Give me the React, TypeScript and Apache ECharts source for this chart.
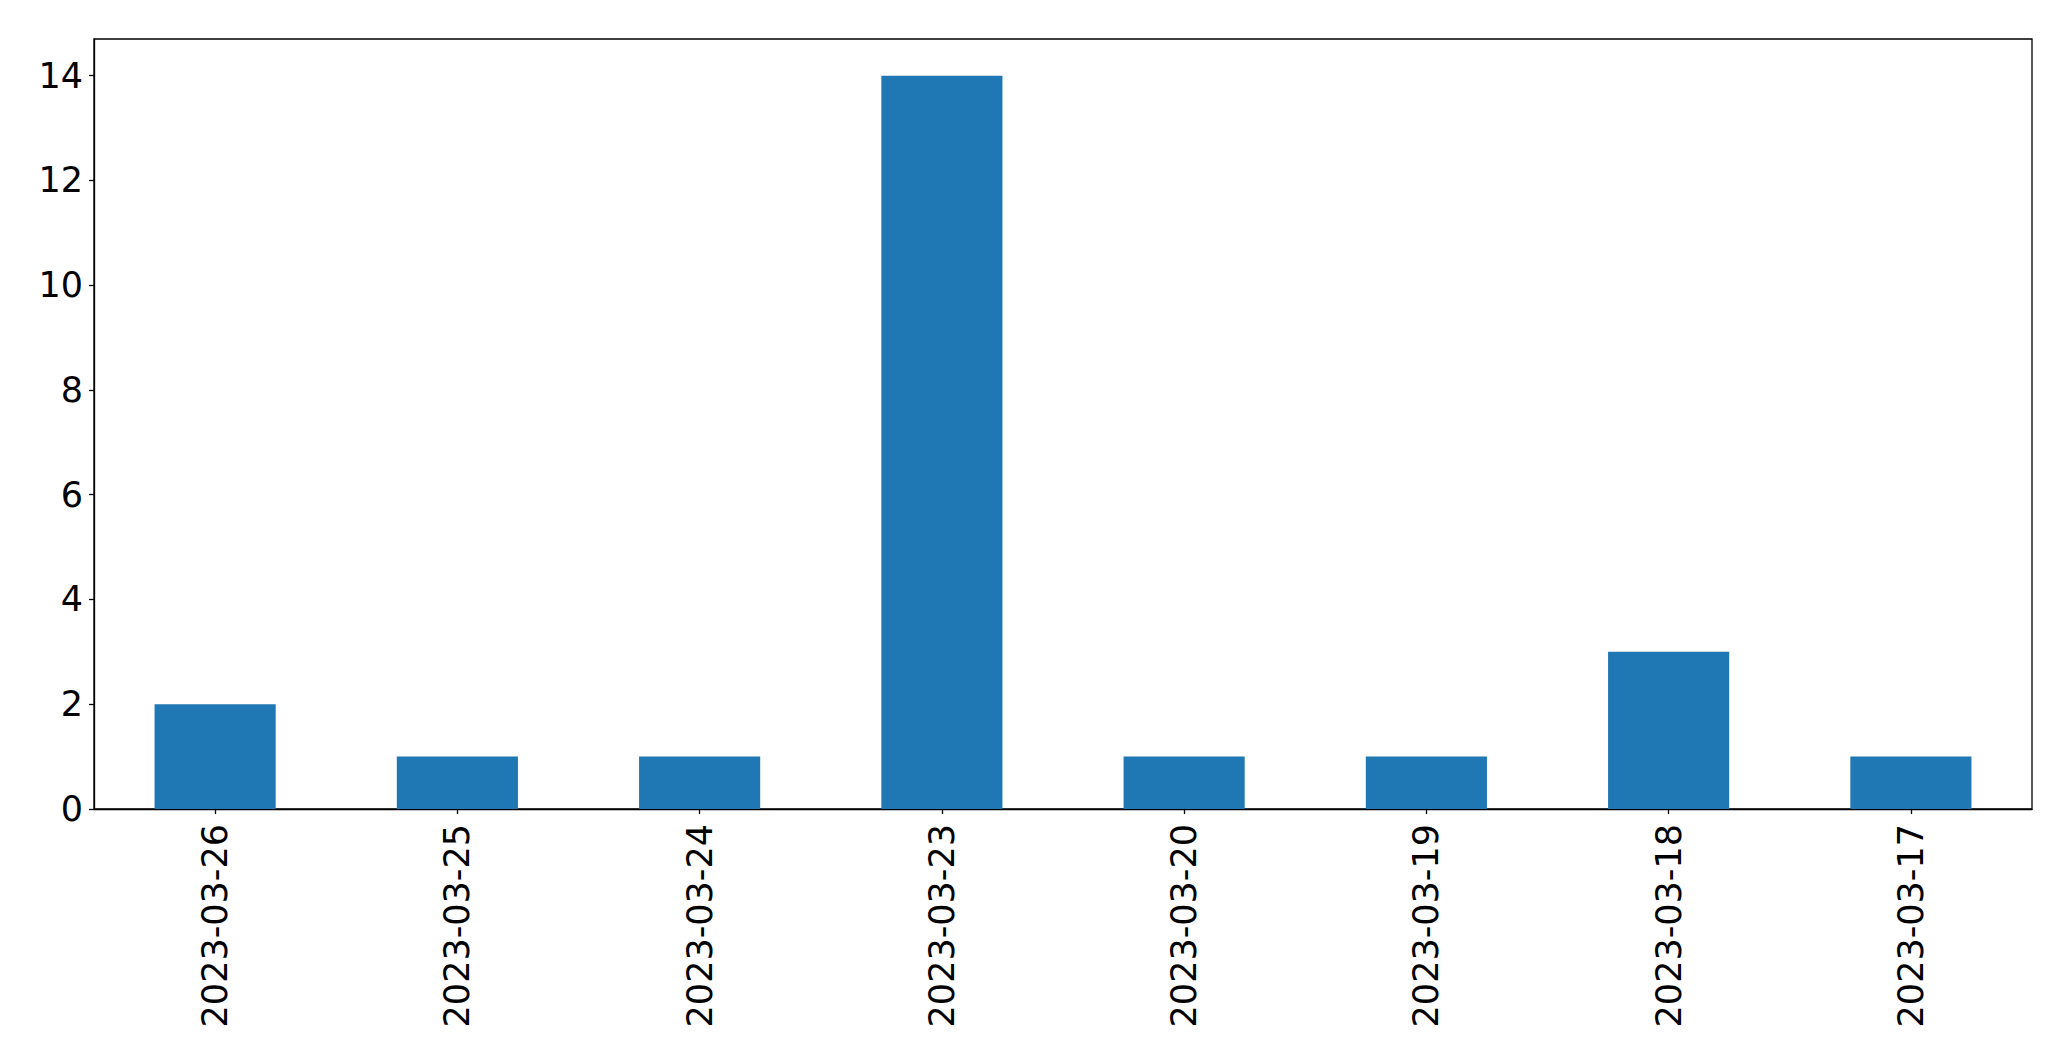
import React, { useEffect, useRef } from "react";
import * as echarts from "echarts";

const categories = [
  "2023-03-26",
  "2023-03-25",
  "2023-03-24",
  "2023-03-23",
  "2023-03-20",
  "2023-03-19",
  "2023-03-18",
  "2023-03-17",
];
const counts = [2, 1, 1, 14, 1, 1, 3, 1];
const yTicks = [0, 2, 4, 6, 8, 10, 12, 14];

export default function App() {
  const ref = useRef<HTMLDivElement>(null);
  useEffect(() => {
    if (!ref.current) return;
    const chart = echarts.init(ref.current, null, { renderer: "svg" });
    const font = "DejaVu Sans";
    chart.setOption({
      animation: false,
      backgroundColor: "#ffffff",
      grid: {
        left: 94,
        right: 39,
        top: 39,
        bottom: 252,
        show: true,
        borderColor: "#000000",
        borderWidth: 1.3,
        backgroundColor: "transparent",
      },
      xAxis: {
        type: "category",
        data: categories,
        boundaryGap: true,
        axisLine: { show: true, lineStyle: { color: "#000000", width: 1.3 } },
        axisTick: { show: true, alignWithLabel: true, length: 5, lineStyle: { color: "#000000", width: 1.3 } },
        axisLabel: {
          rotate: 90,
          margin: 15,
          color: "#000000",
          fontFamily: font,
          fontSize: 35,
          interval: 0,
        },
        splitLine: { show: false },
      },
      yAxis: {
        type: "value",
        min: 0,
        max: 14.7,
        interval: 2,
        axisLine: { show: true, lineStyle: { color: "#000000", width: 1.3 } },
        axisTick: { show: true, length: 5, lineStyle: { color: "#000000", width: 1.3 } },
        axisLabel: {
          margin: 11,
          color: "#000000",
          fontFamily: font,
          fontSize: 35,
          showMaxLabel: false,
          formatter: (v: number) => (yTicks.includes(v) ? String(v) : ""),
        },
        splitLine: { show: false },
      },
      series: [
        {
          type: "bar",
          data: counts,
          barWidth: "50%",
          itemStyle: { color: "#1f77b4" },
        },
      ],
    });
    return () => chart.dispose();
  }, []);
  return (
    <div
      ref={ref}
      style={{ position: "fixed", left: 0, top: 0, width: 2071, height: 1061 }}
    />
  );
}
